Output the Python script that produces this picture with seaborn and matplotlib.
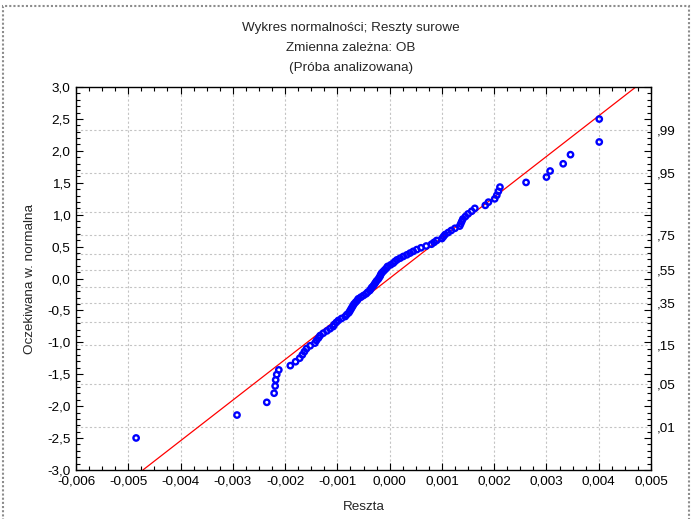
import matplotlib
matplotlib.use("Agg")
import matplotlib.pyplot as plt
import matplotlib.ticker as mticker
from matplotlib.patches import Rectangle
import seaborn as sns

# ---- data ----
residuals = [
    -0.00485, -0.00292, -0.00235, -0.00221, -0.00219, -0.00218, -0.00216, -0.00212, -0.00190, -0.00180,
    -0.00172, -0.00167, -0.00163, -0.00159, -0.00152, -0.00143, -0.00140, -0.00136, -0.00133, -0.00127,
    -0.00120, -0.00114, -0.00108, -0.00106, -0.00102, -0.00098, -0.00092, -0.00085, -0.00082, -0.00078,
    -0.00076, -0.00074, -0.00072, -0.00070, -0.00068, -0.00065, -0.00062, -0.00060, -0.00055, -0.00050,
    -0.00045, -0.00042, -0.00038, -0.00036, -0.00034, -0.00031, -0.00029, -0.00027, -0.00025, -0.00022,
    -0.00020, -0.00018, -0.00017, -0.00015, -0.00012, -0.00009, -0.00006, -0.00004, 0.00002, 0.00007,
    0.00010, 0.00014, 0.00020, 0.00026, 0.00033, 0.00039, 0.00045, 0.00052, 0.00060, 0.00070,
    0.00080, 0.00085, 0.00090, 0.00100, 0.00103, 0.00106, 0.00112, 0.00118, 0.00125, 0.00134,
    0.00136, 0.00138, 0.00140, 0.00145, 0.00150, 0.00157, 0.00163, 0.00183, 0.00189, 0.00201,
    0.00205, 0.00208, 0.00211, 0.00261, 0.00300, 0.00307, 0.00332, 0.00346, 0.00401, 0.00401,
]
expected_normal = [
    -2.498, -2.139, -1.940, -1.797, -1.684, -1.589, -1.505, -1.432, -1.365, -1.304,
    -1.248, -1.196, -1.146, -1.099, -1.054, -1.012, -0.971, -0.931, -0.894, -0.857,
    -0.821, -0.787, -0.753, -0.720, -0.688, -0.657, -0.626, -0.596, -0.566, -0.537,
    -0.509, -0.481, -0.453, -0.425, -0.398, -0.371, -0.345, -0.318, -0.292, -0.266,
    -0.240, -0.214, -0.189, -0.163, -0.138, -0.113, -0.088, -0.063, -0.038, -0.013,
    0.013, 0.038, 0.063, 0.088, 0.113, 0.138, 0.163, 0.189, 0.214, 0.240,
    0.266, 0.292, 0.318, 0.345, 0.371, 0.398, 0.425, 0.453, 0.481, 0.509,
    0.537, 0.566, 0.596, 0.626, 0.657, 0.688, 0.720, 0.753, 0.787, 0.821,
    0.857, 0.894, 0.931, 0.971, 1.012, 1.054, 1.099, 1.146, 1.196, 1.248,
    1.304, 1.365, 1.432, 1.505, 1.589, 1.684, 1.797, 1.940, 2.139, 2.498,
]
fit_resid = [-0.00472, 0.00471]
fit_z = [-3.0, 3.0]

prob_labels = [",01", ",05", ",15", ",35", ",55", ",75", ",95", ",99"]
prob_z = [-2.326, -1.645, -1.036, -0.385, 0.126, 0.674, 1.645, 2.326]
prob_grid_extra_z = [-0.674, -0.126, 0.385, 1.036]

title_lines = ["Wykres normalności; Reszty surowe", "Zmienna zależna: OB", "(Próba analizowana)"]
x_label = "Reszta"
y_label = "Oczekiwana w. normalna"

# ---- styling ----
sns.set_theme(style="white")
plt.rcParams["font.family"] = ["Liberation Sans", "DejaVu Sans"]
FS = 9.7
plt.rcParams["font.size"] = FS

W, H = 691, 519
fig = plt.figure(figsize=(W / 100, H / 100), dpi=100)
fig.patch.set_facecolor("white")
left, right, top, bottom = 76, 651, 87, 470
rect = [left / W, 1 - bottom / H, (right - left) / W, (bottom - top) / H]

ax2 = fig.add_axes(rect)
ax = fig.add_axes(rect)
ax.set_zorder(ax2.get_zorder() + 1)
ax.patch.set_visible(False)

GRID = dict(color="#c4c4c4", linestyle=(0, (2, 2)), linewidth=0.8)

# right probability axis (behind)
ax2.set_xlim(-0.006, 0.005)
ax2.set_ylim(-3.0, 3.0)
ax2.set_xticks([])
ax2.yaxis.tick_right()
ax2.set_yticks(prob_z)
ax2.set_yticklabels(prob_labels)
ax2.set_yticks(prob_grid_extra_z, minor=True)
ax2.tick_params(axis="y", which="both", length=0, pad=4, labelsize=FS, colors="black")
ax2.grid(True, axis="y", which="both", **GRID)
for s in ax2.spines.values():
    s.set_visible(False)
ax2.patch.set_facecolor("white")

# main axes
sns.lineplot(x=fit_resid, y=fit_z, ax=ax, color="red", linewidth=0.9, zorder=2)
sns.scatterplot(x=residuals, y=expected_normal, ax=ax, marker="o", s=15,
                color="blue", linewidth=1.7, zorder=3)
for coll in ax.collections:
    coll.set_facecolor("none")
    coll.set_edgecolor("blue")

ax.set_xlim(-0.006, 0.005)
ax.set_ylim(-3.0, 3.0)
ax.xaxis.set_major_locator(mticker.MultipleLocator(0.001))
ax.xaxis.set_minor_locator(mticker.MultipleLocator(0.00025))
ax.yaxis.set_major_locator(mticker.MultipleLocator(0.5))
ax.yaxis.set_minor_locator(mticker.MultipleLocator(0.1))

def fmt_x(v, pos):
    s = f"{v:.3f}"
    if s == "-0.000":
        s = "0.000"
    return s.replace(".", ",")

def fmt_y(v, pos):
    s = f"{v:.1f}"
    if s == "-0.0":
        s = "0.0"
    return s.replace(".", ",")

ax.xaxis.set_major_formatter(mticker.FuncFormatter(fmt_x))
ax.yaxis.set_major_formatter(mticker.FuncFormatter(fmt_y))
ax.tick_params(which="both", direction="in", top=True, right=True, bottom=True, left=True,
               labelsize=FS, colors="black", width=0.8)
ax.tick_params(which="major", length=5, pad=4)
ax.tick_params(which="minor", length=3)

ax.grid(True, axis="x", which="major", **GRID)
ax.set_axisbelow(True)
for s in ax.spines.values():
    s.set_color("black")
    s.set_linewidth(1.0)

ax.set_xlabel(x_label, fontsize=FS, labelpad=10)
ax.set_ylabel(y_label, fontsize=FS, labelpad=8)

for i, t in enumerate(title_lines):
    fig.text(351 / W, 1 - (28 + 20 * i) / H, t, ha="center", va="center", fontsize=FS)

fig.patches.append(Rectangle((3 / W, -0.02), (689 - 3) / W, 1 - 6 / H + 0.02,
                             transform=fig.transFigure, fill=False,
                             edgecolor="#8c8c8c", linewidth=1.5, linestyle=(0, (1, 1))))

fig.savefig("out.png", dpi=100)
